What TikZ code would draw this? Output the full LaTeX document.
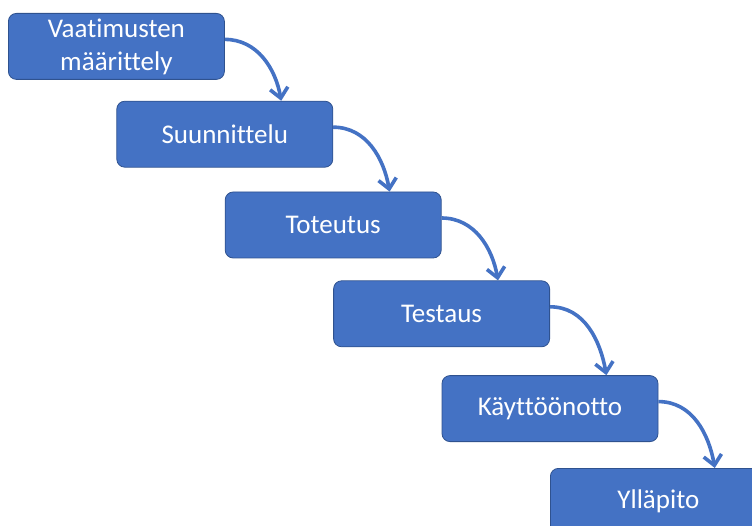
\documentclass[tikz,border=0pt]{standalone}
\usepackage{fontspec}
\setmainfont[RawFeature={-liga;-clig;-dlig;-calt}]{Carlito}
\definecolor{StepBlue}{HTML}{4472C4}
\definecolor{StepEdge}{HTML}{2F528F}
\usepackage{tikz}
\usetikzlibrary{arrows.meta, positioning}

\begin{document}
\begin{tikzpicture}[>={Straight Barb[length=10pt, width=18pt]},
    phase/.style={draw=StepEdge, line width=0.8pt, fill=StepBlue,
                  rounded corners=8pt, minimum width=216pt,
                  minimum height=66pt, inner sep=0pt, align=center,
                  text=white, font=\fontsize{27}{33}\selectfont},
    flow/.style={->, line width=3.6pt, StepBlue}]
  \useasboundingbox (0,0) rectangle (752pt,-526pt);

  \node[phase, anchor=north west] (req) at (8pt,-13pt)
    {Vaatimusten\\m\"a\"arittely};
  \node[phase, below right=21pt and 0pt of req.south] (design) {Suunnittelu};
  \node[phase, below right=24pt and 0pt of design.south] (impl) {Toteutus};
  \node[phase, below right=22pt and 0pt of impl.south] (test) {Testaus};
  \node[phase, below right=28pt and 0pt of test.south] (deploy) {K\"aytt\"o\"onotto};
  \node[phase, below right=26pt and 0pt of deploy.south] (maint) {Yll\"apito};

  \draw[flow] ([yshift=7pt]req.east)
    to[out=0, in=100] ([xshift=-52pt]design.north east);
  \draw[flow] ([yshift=7pt]design.east)
    to[out=0, in=100] ([xshift=-52pt]impl.north east);
  \draw[flow] ([yshift=7pt]impl.east)
    to[out=0, in=100] ([xshift=-52pt]test.north east);
  \draw[flow] ([yshift=7pt]test.east)
    to[out=0, in=100] ([xshift=-52pt]deploy.north east);
  \draw[flow] ([yshift=7pt]deploy.east)
    to[out=0, in=100] ([xshift=-52pt]maint.north east);
\end{tikzpicture}
\end{document}
